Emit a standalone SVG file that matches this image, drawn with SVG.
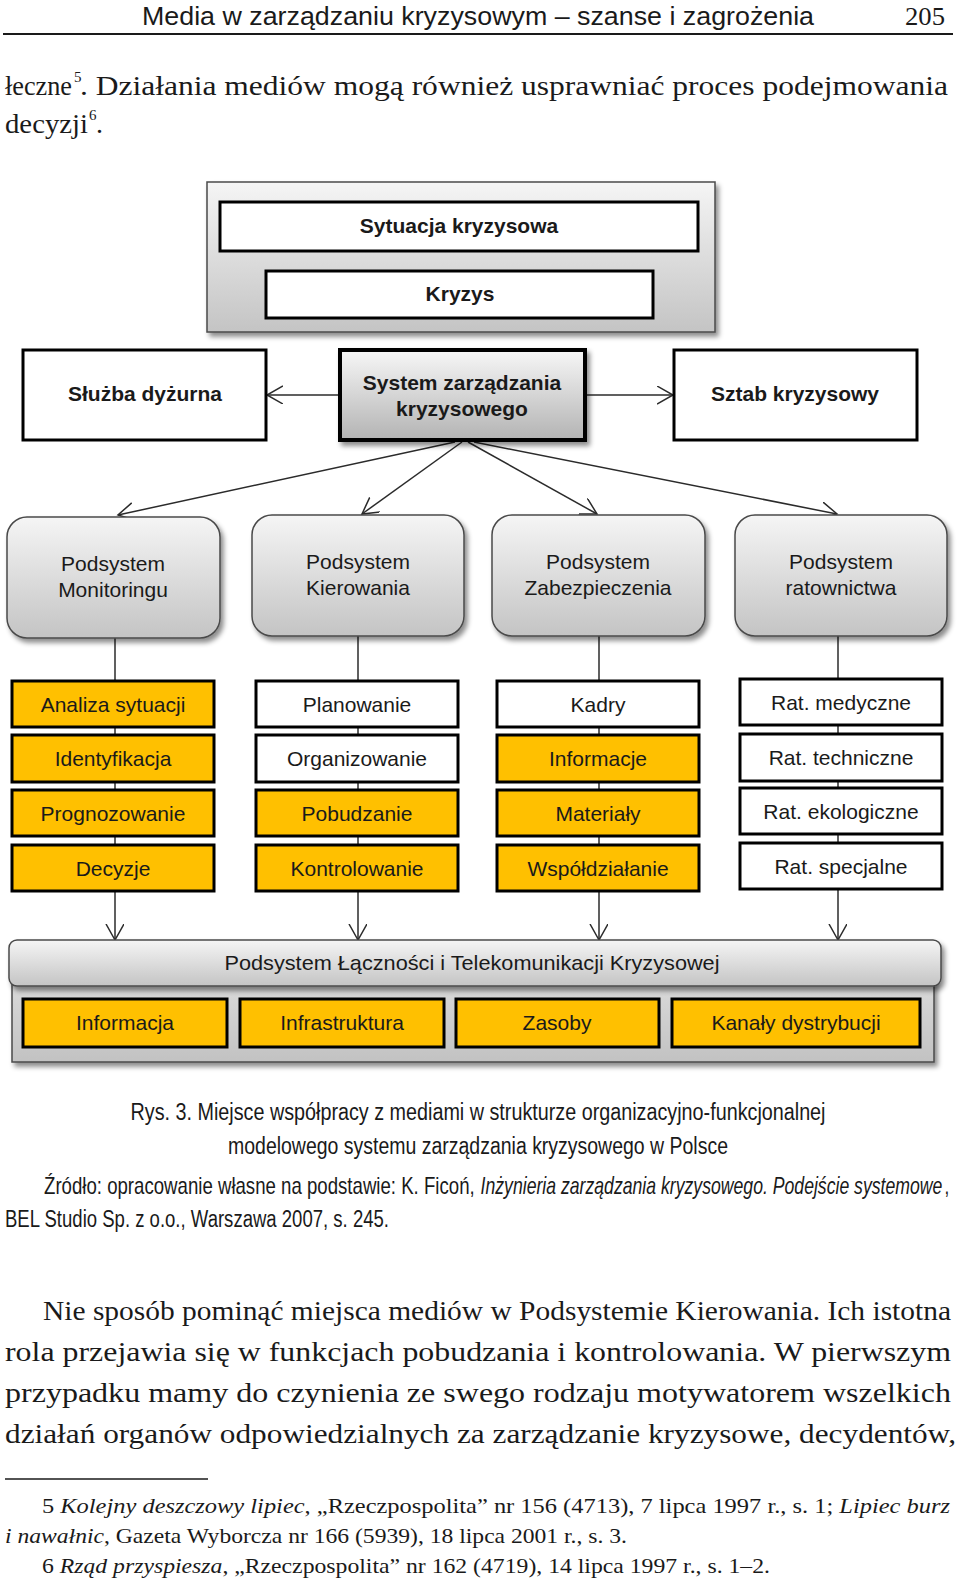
<svg xmlns="http://www.w3.org/2000/svg" width="960" height="1582" viewBox="0 0 960 1582">
<defs>
<linearGradient id="gGray" x1="0" y1="0" x2="0" y2="1"><stop offset="0" stop-color="#f5f5f5"/><stop offset="1" stop-color="#c4c4c4"/></linearGradient>
<linearGradient id="gSys" x1="0" y1="0" x2="0" y2="1"><stop offset="0" stop-color="#f7f7f7"/><stop offset="1" stop-color="#b3b3b3"/></linearGradient>
<linearGradient id="gCont" x1="0" y1="0" x2="0" y2="1"><stop offset="0" stop-color="#e2e2e2"/><stop offset="1" stop-color="#c2c2c2"/></linearGradient>
<filter id="sh" x="-5%" y="-10%" width="115%" height="130%"><feDropShadow dx="3" dy="4" stdDeviation="2.5" flood-color="#000" flood-opacity="0.45"/></filter>
<marker id="ah" markerUnits="userSpaceOnUse" markerWidth="18" markerHeight="20" refX="16" refY="9" orient="auto"><path d="M0,0 L16,9 L0,18" fill="none" stroke="#2b2b2b" stroke-width="1.5"/></marker>
<style>
.pg{font-family:"Liberation Serif",serif;fill:#1a1a1a}
.hd{font-family:"Liberation Sans",sans-serif;fill:#1a1a1a}
.cap{font-family:"Liberation Sans",sans-serif;fill:#1a1a1a;font-size:23px}
.b{font-family:"Liberation Sans",sans-serif;font-weight:bold;font-size:21px;fill:#1a1a1a;text-anchor:middle}
.r{font-family:"Liberation Sans",sans-serif;font-size:21px;fill:#1a1a1a;text-anchor:middle}
.wb{fill:#fff;stroke:#000;stroke-width:3}
.yb{fill:#ffc000;stroke:#000;stroke-width:3}
.gb{fill:url(#gGray);stroke:#4a4a4a;stroke-width:1.5}
.cn{stroke:#2b2b2b;stroke-width:1.5;fill:none}
.it{font-style:italic}
</style>
</defs>

<!-- page header -->
<g id="page-header">
<text class="hd" x="142" y="25" font-size="25" textLength="672" lengthAdjust="spacingAndGlyphs">Media w zarządzaniu kryzysowym – szanse i zagrożenia</text>
<text class="pg" x="905" y="25" font-size="26" textLength="40" lengthAdjust="spacingAndGlyphs">205</text>
<line x1="3" y1="34" x2="953" y2="34" stroke="#1a1a1a" stroke-width="2"/>
</g>

<g id="page-text-top">
<text class="pg" x="5" y="95" font-size="28" textLength="67" lengthAdjust="spacingAndGlyphs">łeczne</text>
<text class="pg" x="74" y="82" font-size="15">5</text>
<text class="pg" x="80" y="95" font-size="28" textLength="868" lengthAdjust="spacingAndGlyphs">. Działania mediów mogą również usprawniać proces podejmowania</text>
<text class="pg" x="5" y="133" font-size="28" textLength="83" lengthAdjust="spacingAndGlyphs">decyzji</text>
<text class="pg" x="89" y="120" font-size="15">6</text>
<text class="pg" x="96" y="133" font-size="28">.</text>
</g>

<!-- connectors -->
<g id="connectors">
<line class="cn" x1="340" y1="395" x2="267" y2="395" marker-end="url(#ah)"/>
<line class="cn" x1="585" y1="395" x2="673" y2="395" marker-end="url(#ah)"/>
<line class="cn" x1="455" y1="442" x2="118" y2="515" marker-end="url(#ah)"/>
<line class="cn" x1="462" y1="442" x2="362" y2="514" marker-end="url(#ah)"/>
<line class="cn" x1="468" y1="442" x2="597" y2="514" marker-end="url(#ah)"/>
<line class="cn" x1="474" y1="442" x2="837" y2="514" marker-end="url(#ah)"/>
<line class="cn" x1="115" y1="636" x2="115" y2="940" marker-end="url(#ah)"/>
<line class="cn" x1="358" y1="636" x2="358" y2="940" marker-end="url(#ah)"/>
<line class="cn" x1="599" y1="636" x2="599" y2="940" marker-end="url(#ah)"/>
<line class="cn" x1="838" y1="636" x2="838" y2="940" marker-end="url(#ah)"/>
</g>

<!-- top group -->
<g id="sytuacja-container">
<rect x="207" y="182" width="508" height="150" fill="url(#gGray)" stroke="#4a4a4a" stroke-width="1.5" filter="url(#sh)"/>
</g>
<g id="sytuacja-kryzysowa">
<rect class="wb" x="220" y="202" width="478" height="49"/>
<text class="b" x="459" y="233">Sytuacja kryzysowa</text>
</g>
<g id="kryzys">
<rect class="wb" x="266" y="271" width="387" height="47"/>
<text class="b" x="460" y="301">Kryzys</text>
</g>

<g id="sluzba-dyzurna">
<rect class="wb" x="23" y="350" width="243" height="90" stroke-width="2.5"/>
<text class="b" x="145" y="401">Służba dyżurna</text>
</g>
<g id="system-zarzadzania">
<rect x="340" y="350" width="245" height="90" fill="url(#gSys)" stroke="#000" stroke-width="4" filter="url(#sh)"/>
<text class="b" x="462" y="390">System zarządzania</text>
<text class="b" x="462" y="416">kryzysowego</text>
</g>
<g id="sztab-kryzysowy">
<rect class="wb" x="674" y="350" width="243" height="90" stroke-width="2.5"/>
<text class="b" x="795" y="401">Sztab kryzysowy</text>
</g>

<!-- subsystems -->
<g id="podsystem-monitoringu">
<rect class="gb" x="7" y="517" width="213" height="121" rx="20" filter="url(#sh)"/>
<text class="r" x="113" y="571" font-size="21.5">Podsystem</text>
<text class="r" x="113" y="597" font-size="21.5">Monitoringu</text>
</g>
<g id="podsystem-kierowania">
<rect class="gb" x="252" y="515" width="212" height="121" rx="20" filter="url(#sh)"/>
<text class="r" x="358" y="569" font-size="21.5">Podsystem</text>
<text class="r" x="358" y="595" font-size="21.5">Kierowania</text>
</g>
<g id="podsystem-zabezpieczenia">
<rect class="gb" x="492" y="515" width="213" height="121" rx="20" filter="url(#sh)"/>
<text class="r" x="598" y="569" font-size="21.5">Podsystem</text>
<text class="r" x="598" y="595" font-size="21.5">Zabezpieczenia</text>
</g>
<g id="podsystem-ratownictwa">
<rect class="gb" x="735" y="515" width="212" height="121" rx="20" filter="url(#sh)"/>
<text class="r" x="841" y="569" font-size="21.5">Podsystem</text>
<text class="r" x="841" y="595" font-size="21.5">ratownictwa</text>
</g>

<!-- column 1 -->
<g id="analiza-sytuacji"><rect class="yb" x="12" y="681" width="202" height="46"/><text class="r" x="113" y="712">Analiza sytuacji</text></g>
<g id="identyfikacja"><rect class="yb" x="12" y="735" width="202" height="47"/><text class="r" x="113" y="766">Identyfikacja</text></g>
<g id="prognozowanie"><rect class="yb" x="12" y="790" width="202" height="46"/><text class="r" x="113" y="821">Prognozowanie</text></g>
<g id="decyzje"><rect class="yb" x="12" y="845" width="202" height="46"/><text class="r" x="113" y="876">Decyzje</text></g>
<!-- column 2 -->
<g id="planowanie"><rect class="wb" x="256" y="681" width="202" height="46"/><text class="r" x="357" y="712">Planowanie</text></g>
<g id="organizowanie"><rect class="wb" x="256" y="735" width="202" height="47"/><text class="r" x="357" y="766">Organizowanie</text></g>
<g id="pobudzanie"><rect class="yb" x="256" y="790" width="202" height="46"/><text class="r" x="357" y="821">Pobudzanie</text></g>
<g id="kontrolowanie"><rect class="yb" x="256" y="845" width="202" height="46"/><text class="r" x="357" y="876">Kontrolowanie</text></g>
<!-- column 3 -->
<g id="kadry"><rect class="wb" x="497" y="681" width="202" height="46"/><text class="r" x="598" y="712">Kadry</text></g>
<g id="informacje"><rect class="yb" x="497" y="735" width="202" height="47"/><text class="r" x="598" y="766">Informacje</text></g>
<g id="materialy"><rect class="yb" x="497" y="790" width="202" height="46"/><text class="r" x="598" y="821">Materiały</text></g>
<g id="wspoldzialanie"><rect class="yb" x="497" y="845" width="202" height="46"/><text class="r" x="598" y="876">Współdziałanie</text></g>
<!-- column 4 -->
<g id="rat-medyczne"><rect class="wb" x="740" y="679" width="202" height="46"/><text class="r" x="841" y="710">Rat. medyczne</text></g>
<g id="rat-techniczne"><rect class="wb" x="740" y="734" width="202" height="47"/><text class="r" x="841" y="765">Rat. techniczne</text></g>
<g id="rat-ekologiczne"><rect class="wb" x="740" y="788" width="202" height="46"/><text class="r" x="841" y="819">Rat. ekologiczne</text></g>
<g id="rat-specjalne"><rect class="wb" x="740" y="843" width="202" height="46"/><text class="r" x="841" y="874">Rat. specjalne</text></g>

<!-- communications subsystem -->
<g id="podsystem-lacznosci">
<rect x="12" y="955" width="922" height="107" fill="url(#gCont)" stroke="#4a4a4a" stroke-width="1.5" filter="url(#sh)"/>
<rect x="9" y="940" width="932" height="46" rx="8" fill="url(#gGray)" stroke="#4a4a4a" stroke-width="1.5" filter="url(#sh)"/>
<text class="r" x="472" y="970" textLength="495" lengthAdjust="spacingAndGlyphs">Podsystem Łączności i Telekomunikacji Kryzysowej</text>
</g>
<g id="informacja"><rect class="yb" x="23" y="999" width="204" height="48"/><text class="r" x="125" y="1030">Informacja</text></g>
<g id="infrastruktura"><rect class="yb" x="240" y="999" width="204" height="48"/><text class="r" x="342" y="1030">Infrastruktura</text></g>
<g id="zasoby"><rect class="yb" x="456" y="999" width="203" height="48"/><text class="r" x="557" y="1030">Zasoby</text></g>
<g id="kanaly-dystrybucji"><rect class="yb" x="672" y="999" width="248" height="48"/><text class="r" x="796" y="1030">Kanały dystrybucji</text></g>

<!-- caption -->
<g id="caption">
<text class="cap" x="478" y="1120" text-anchor="middle" textLength="695" lengthAdjust="spacingAndGlyphs">Rys. 3. Miejsce współpracy z mediami w strukturze organizacyjno-funkcjonalnej</text>
<text class="cap" x="478" y="1154" text-anchor="middle" textLength="500" lengthAdjust="spacingAndGlyphs">modelowego systemu zarządzania kryzysowego w Polsce</text>
<g transform="translate(44,1194) scale(0.74,1)">
<text class="cap" x="0" y="0" textLength="582" lengthAdjust="spacingAndGlyphs">Źródło: opracowanie własne na podstawie: K. Ficoń,</text>
<text class="cap it" x="590" y="0" textLength="624" lengthAdjust="spacingAndGlyphs">Inżynieria zarządzania kryzysowego. Podejście systemowe</text>
<text class="cap" x="1217" y="0">,</text>
</g>
<text class="cap" x="5" y="1227" textLength="384" lengthAdjust="spacingAndGlyphs">BEL Studio Sp. z o.o., Warszawa 2007, s. 245.</text>
</g>

<!-- body text -->
<g id="body-text">
<text class="pg" x="43" y="1320" font-size="27" textLength="908" lengthAdjust="spacingAndGlyphs">Nie sposób pominąć miejsca mediów w Podsystemie Kierowania. Ich istotna</text>
<text class="pg" x="5" y="1361" font-size="27" textLength="946" lengthAdjust="spacingAndGlyphs">rola przejawia się w funkcjach pobudzania i kontrolowania. W pierwszym</text>
<text class="pg" x="5" y="1402" font-size="27" textLength="946" lengthAdjust="spacingAndGlyphs">przypadku mamy do czynienia ze swego rodzaju motywatorem wszelkich</text>
<text class="pg" x="5" y="1443" font-size="27" textLength="951" lengthAdjust="spacingAndGlyphs">działań organów odpowiedzialnych za zarządzanie kryzysowe, decydentów,</text>
</g>

<!-- footnotes -->
<g id="footnotes">
<line x1="5" y1="1479" x2="208" y2="1479" stroke="#1a1a1a" stroke-width="1.5"/>
<text class="pg" x="42" y="1513" font-size="21" textLength="908" lengthAdjust="spacingAndGlyphs">5  <tspan class="it">Kolejny deszczowy lipiec</tspan>, „Rzeczpospolita” nr 156 (4713), 7 lipca 1997 r., s. 1; <tspan class="it">Lipiec burz</tspan></text>
<text class="pg" x="5" y="1543" font-size="21" textLength="622" lengthAdjust="spacingAndGlyphs"><tspan class="it">i nawałnic</tspan>, Gazeta Wyborcza nr 166 (5939), 18 lipca 2001 r., s. 3.</text>
<text class="pg" x="42" y="1573" font-size="21" textLength="728" lengthAdjust="spacingAndGlyphs">6  <tspan class="it">Rząd przyspiesza</tspan>, „Rzeczpospolita” nr 162 (4719), 14 lipca 1997 r., s. 1–2.</text>
</g>
</svg>
